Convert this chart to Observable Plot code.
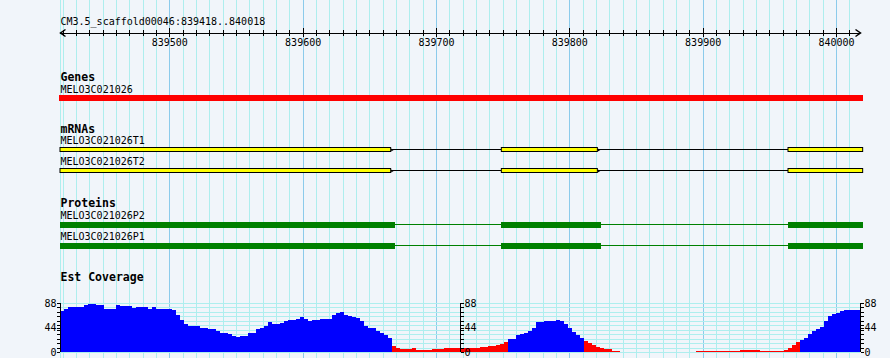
<!DOCTYPE html>
<html><head><meta charset="utf-8">
<script src="https://cdn.jsdelivr.net/npm/d3@7"></script>
<script src="https://cdn.jsdelivr.net/npm/@observablehq/plot@0.6"></script>
<style>
html,body{margin:0;padding:0;background:#f1f5fa;}
#chart{position:relative;width:890px;height:358px;background:#f1f5fa;overflow:hidden;font-family:"DejaVu Sans Mono",monospace;}
#chart > div{position:absolute;left:0;}
#chart svg{display:block;overflow:visible;}
</style></head><body><div id="chart"></div>
<script>
// ---------- data ----------
const refName = "CM3.5_scaffold00046";
const viewStart = 839418, viewEnd = 840018;
const rulerLabels = [839500, 839600, 839700, 839800, 839900, 840000];
const gridStep = 10;

const geneTrackTitle = "Genes";
const geneNames = ["MELO3C021026"];
const geneStart = [839417.5];
const geneEnd = [840020];

const mrnaTrackTitle = "mRNAs";
const mrnaNames = ["MELO3C021026T1", "MELO3C021026T2"];
const mrnaExonStart = [839418, 839749, 839964];
const mrnaExonEnd = [839666, 839821, 840020];

const proteinTrackTitle = "Proteins";
const proteinNames = ["MELO3C021026P2", "MELO3C021026P1"];
const cdsStart = [839418, 839749, 839964];
const cdsEnd = [839669, 839824, 840020];

const coverageTitle = "Est Coverage";
const coverageBin = 3;          // bp per bin, starting at viewStart
const coverageMax = 88;
const coverageLabels = [0, 44, 88];
const coverageMinorTicks = [0, 8, 16, 24, 32, 40, 48, 56, 64, 72, 80, 88];
const coverageCut = 20;         // bins above are drawn blue, others red
const coverage = [
  73.7, 77, 81, 80.5, 80, 80, 84, 86.5, 87, 84,
  84, 76.5, 76.7, 78, 84, 83, 82.7, 82.7, 79.7, 81.5,
  81.5, 80, 77, 81, 77.3, 77.3, 77.3, 77.3, 75, 67,
  57, 50, 47, 47.3, 47.3, 43.7, 43.7, 42, 42, 37.7,
  33.5, 34.7, 32, 28, 27.6, 29.4, 29.4, 33.5, 35, 41,
  43.7, 46, 54, 51, 50, 52, 55, 57.5, 57.5, 58.5,
  62, 59, 55.7, 58, 57, 58.5, 59.3, 59.3, 67, 70.7,
  72, 67, 64.7, 63, 61, 55, 47, 43.7, 42.5, 37,
  34, 30.5, 25, 10, 6.6, 5.4, 5.4, 5.4, 8, 3.6,
  3.6, 3.6, 3.6, 5.4, 5.4, 5.4, 6.5, 7.2, 7.2, 7.2,
  7.2, 7.5, 7.8, 7.8, 7.8, 8.5, 9, 10.8, 11, 12.6,
  14, 18.6, 23.4, 24, 31, 33, 35, 38, 44, 54,
  54.5, 56, 56.3, 56.5, 57.5, 55, 50, 43, 36.5, 30,
  24.5, 19.8, 17, 12.6, 9, 7, 5.4, 4.5, 2.4, 1,
  0, 0, 0, 0, 0, 0, 0, 0, 0, 0,
  0, 0, 0, 0, 0, 0, 0, 0, 0, 1.2,
  1.2, 1.2, 1.2, 1.2, 1.2, 1.2, 1.2, 1.2, 1.2, 1.2,
  3.6, 3.6, 3.6, 3.6, 3.6, 1.2, 1.2, 1.2, 1.2, 1.2,
  2, 3.5, 7.5, 12, 18, 22, 26, 32, 38, 41.5,
  45, 55, 64, 68, 70, 74.5, 75, 75, 75, 75
];

// ---------- style ----------
const W = 890, H = 358, ML = 60, MR = 30;
const C = {
  bg: "#f1f5fa", gridMinor: "#aeeeee", gridMajor: "#8ccbeb",
  gene: "#ff0000", exon: "#ffff00", cds: "#008000",
  covHigh: "#0000ff", covLow: "#ff0000"
};
const FONT = "DejaVu Sans Mono";
const baseStyle = {background: "transparent", fontFamily: FONT, fontSize: "10px", overflow: "visible", color: "black"};
const xScale = {domain: [viewStart, viewEnd], axis: null};
const chart = document.getElementById("chart");
function place(node, top) {
  const d = document.createElement("div");
  d.style.top = top + "px";
  d.appendChild(node);
  chart.appendChild(d);
}

const gridAll = d3.range(Math.ceil(viewStart / gridStep) * gridStep, viewEnd, gridStep);
const gridMinor = [viewStart, ...gridAll.filter(d => d % 100 !== 0)];
const gridMajor = gridAll.filter(d => d % 100 === 0);

// ---------- background grid ----------
place(Plot.plot({
  width: W, height: H, marginTop: 0, marginBottom: 0, marginLeft: ML, marginRight: MR,
  x: xScale, y: {domain: [0, 1], axis: null}, style: baseStyle,
  marks: [
    Plot.ruleX(gridMinor, {stroke: C.gridMinor, shapeRendering: "crispEdges"}),
    Plot.ruleX(gridMajor, {stroke: C.gridMajor, shapeRendering: "crispEdges"})
  ]
}), 0);

// ---------- ruler ----------
const chevronRight = {draw(ctx) { ctx.moveTo(-5, -3.5); ctx.lineTo(0, 0); ctx.lineTo(-5, 3.5); }};
const chevronLeft = {draw(ctx) { ctx.moveTo(5, -3.5); ctx.lineTo(0, 0); ctx.lineTo(5, 3.5); }};
place(Plot.plot({
  width: W, height: 50, marginTop: 0, marginBottom: 0, marginLeft: ML, marginRight: MR,
  x: xScale, y: {domain: [-1, 1], range: [36.5, 28.5], axis: null}, style: baseStyle,
  marks: [
    Plot.ruleY([0], {stroke: "black", shapeRendering: "crispEdges"}),
    Plot.ruleX(gridAll.filter(d => d % 100 !== 0), {y1: -0.75, y2: 0.75, stroke: "black", shapeRendering: "crispEdges"}),
    Plot.ruleX(gridMajor, {y1: -1, y2: 1.25, stroke: "black", shapeRendering: "crispEdges"}),
    Plot.dot([viewStart], {x: d => d, y: 0, symbol: chevronLeft, fill: "none", stroke: "black"}),
    Plot.dot([viewEnd], {x: d => d, y: 0, symbol: chevronRight, fill: "none", stroke: "black"}),
    Plot.text(rulerLabels, {x: d => d, y: -1, dy: 2, lineAnchor: "top", text: d => String(d), fill: "black"}),
    Plot.text([`${refName}:${viewStart}..${viewEnd}`], {x: viewStart, y: 2, textAnchor: "start", lineAnchor: "bottom", text: d => d, fill: "black"})
  ]
}), 0);

// ---------- feature tracks ----------
function expand(names, starts, ends) {
  return names.flatMap(name => starts.map((s, i) => ({name, start: s, end: ends[i]})));
}
function introns(names, starts, ends) {
  return names.flatMap(name => starts.slice(1).map((s, i) => ({name, start: ends[i], end: s})));
}
function trackPlot({title, names, marginTop, glyphs}) {
  const band = 21;
  return Plot.plot({
    width: W, height: marginTop + band * names.length, marginTop, marginBottom: 0, marginLeft: ML, marginRight: MR,
    x: xScale, y: {type: "band", domain: names, padding: 0, axis: null}, style: baseStyle,
    marks: [
      ...glyphs,
      Plot.text([title], {frameAnchor: "top-left", textAnchor: "start", dy: -7, lineAnchor: "bottom", text: d => d, fontWeight: "bold", fontSize: 11.5, fill: "black"}),
      Plot.text(names, {y: d => d, frameAnchor: "left", textAnchor: "start", dy: -6, lineAnchor: "bottom", text: d => d, fill: "black"})
    ]
  });
}

const spliceTip = {draw(ctx) { ctx.moveTo(0, -1.5); ctx.lineTo(2.5, 0); ctx.lineTo(0, 1.5); ctx.closePath(); }};

place(trackPlot({
  title: geneTrackTitle, names: geneNames, marginTop: 29.5,
  glyphs: [
    Plot.rect(geneNames.map((n, i) => ({name: n, start: geneStart[i], end: geneEnd[i]})),
      {x1: "start", x2: "end", y: "name", fill: C.gene, insetTop: 7.5, insetBottom: 7.5, shapeRendering: "crispEdges"})
  ]
}), 58);

place(trackPlot({
  title: mrnaTrackTitle, names: mrnaNames, marginTop: 29,
  glyphs: [
    Plot.rect(introns(mrnaNames, mrnaExonStart, mrnaExonEnd),
      {x1: "start", x2: "end", y: "name", fill: "black", insetTop: 10, insetBottom: 10, shapeRendering: "crispEdges"}),
    Plot.rect(expand(mrnaNames, mrnaExonStart, mrnaExonEnd),
      {x1: "start", x2: "end", y: "name", fill: C.exon, stroke: "black", strokeWidth: 1, insetTop: 8.5, insetBottom: 8.5}),
    Plot.dot(introns(mrnaNames, mrnaExonStart, mrnaExonEnd),
      {x: "start", y: "name", symbol: spliceTip, fill: "black", stroke: "none"})
  ]
}), 110);

place(trackPlot({
  title: proteinTrackTitle, names: proteinNames, marginTop: 29.5,
  glyphs: [
    Plot.rect(introns(proteinNames, cdsStart, cdsEnd),
      {x1: "start", x2: "end", y: "name", fill: C.cds, insetTop: 9.5, insetBottom: 10.5, shapeRendering: "crispEdges"}),
    Plot.rect(expand(proteinNames, cdsStart, cdsEnd),
      {x1: "start", x2: "end", y: "name", fill: C.cds, insetTop: 7.5, insetBottom: 7.5, shapeRendering: "crispEdges"})
  ]
}), 184);

// ---------- coverage ----------
const bins = coverage.map((v, i) => ({
  start: viewStart + i * coverageBin, end: viewStart + (i + 1) * coverageBin, v
})).filter(d => d.v > 0);
const covTop = 290, covH = 68, covMT = 13, covMB = 6;
const midPos = (viewStart + viewEnd) / 2;
const midDx = (midPos - viewEnd) / (viewEnd - viewStart) * (W - ML - MR);
function covAxis(anchor, dx) {
  return [
    Plot.axisY(coverageMinorTicks, {anchor, dx, tickSize: 3, fill: "none", label: null, stroke: "black", shapeRendering: "crispEdges"}),
    Plot.axisY(coverageLabels, {anchor, dx, tickSize: 3, tickPadding: 1, label: null, stroke: "black", fill: "black", fontSize: 10, shapeRendering: "crispEdges"})
  ];
}
place(Plot.plot({
  width: W, height: covH, marginTop: covMT, marginBottom: covMB, marginLeft: ML, marginRight: MR,
  x: xScale, y: {domain: [0, coverageMax], axis: null}, color: {type: "identity"}, style: baseStyle,
  marks: [
    Plot.ruleY(coverageMinorTicks, {stroke: C.gridMinor, shapeRendering: "crispEdges"}),
    Plot.rectY(bins, {x1: "start", x2: "end", y: "v", fill: d => d.v > coverageCut ? C.covHigh : C.covLow, shapeRendering: "crispEdges"}),
    Plot.ruleX([viewStart, midPos, viewEnd], {y1: 0, y2: coverageMax, stroke: "black", shapeRendering: "crispEdges"}),
    ...covAxis("left", 0),
    ...covAxis("right", midDx),
    ...covAxis("right", 0),
    Plot.text([coverageTitle], {frameAnchor: "top-left", textAnchor: "start", dy: -22.5, lineAnchor: "bottom", text: d => d, fontWeight: "bold", fontSize: 11.5, fill: "black"})
  ]
}), covTop);
</script></body></html>
